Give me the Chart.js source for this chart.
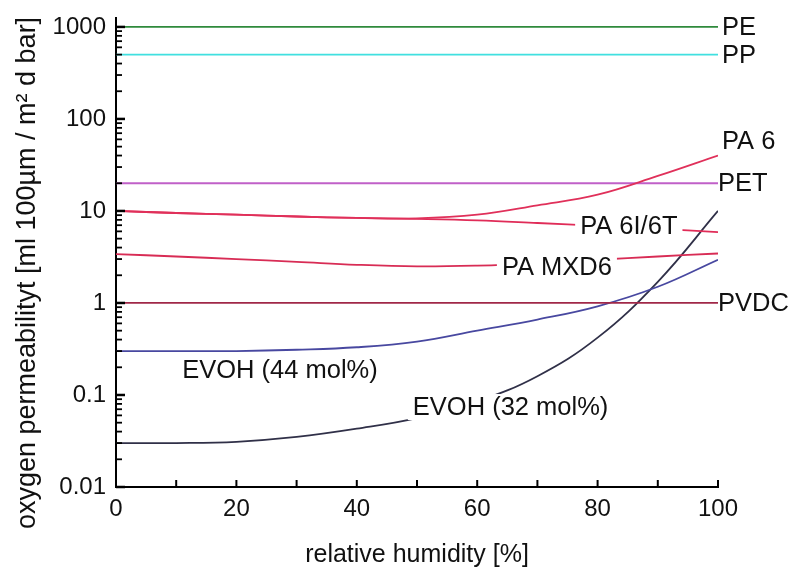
<!DOCTYPE html>
<html>
<head>
<meta charset="utf-8">
<script src="https://cdn.jsdelivr.net/npm/chart.js@4/dist/chart.umd.min.js"></script>
<style>
  html, body { margin: 0; padding: 0; background: #fff; }
  #wrap { width: 790px; height: 574px; }
</style>
</head>
<body>
<div id="wrap"><canvas id="chart"></canvas></div>
<script>
// relative humidity [%]
var humidity = [0, 10, 20, 30, 40, 50, 60, 70, 80, 90, 100];

// oxygen permeability per material
var pe      = [1000, 1000, 1000, 1000, 1000, 1000, 1000, 1000, 1000, 1000, 1000];
var pp      = [500, 500, 500, 500, 500, 500, 500, 500, 500, 500, 500];
var pa6     = [10, 9.5, 9.1, 8.7, 8.4, 8.3, 9.1, 11.5, 15, 24, 40];
var pet     = [20, 20, 20, 20, 20, 20, 20, 20, 20, 20, 20];
var pa6i6t  = [10, 9.5, 9.1, 8.7, 8.4, 8.2, 7.9, 7.4, 6.9, 6.4, 5.9];
var paMxd6  = [3.4, 3.2, 3.0, 2.8, 2.6, 2.5, 2.55, 2.7, 2.95, 3.2, 3.45];
var pvdc    = [1, 1, 1, 1, 1, 1, 1, 1, 1, 1, 1];
var evoh44  = [0.3, 0.3, 0.3, 0.31, 0.33, 0.38, 0.5, 0.66, 0.92, 1.5, 2.95];
var evoh32  = [0.03, 0.03, 0.031, 0.035, 0.043, 0.056, 0.085, 0.16, 0.42, 1.7, 10];

var xTicks = [0, 20, 40, 60, 80, 100];
var yTicks = [0.01, 0.1, 1, 10, 100, 1000];

function pts(values) {
	return humidity.map(function(h, i) { return {x: h, y: values[i]}; });
}

function series(values, color) {
	return {
		data: pts(values),
		borderColor: color,
		borderWidth: 1.8,
		pointRadius: 0,
		tension: 0.4,
		fill: false
	};
}

var FONT = '"Liberation Sans", Arial, sans-serif';

// text labels next to the curves, anchored at data coordinates
var curveLabels = [
	{text: 'PE', x: 100, y: 1000, dx: 4, box: false},
	{text: 'PP', x: 100, y: 500, dx: 4, box: false},
	{text: 'PA 6', x: 100, y: 58, dx: 4, box: false},
	{text: 'PET', x: 100, y: 20, dx: 0, box: false},
	{text: 'PA 6I/6T', x: 77.1, y: 6.9, dx: 0, box: true},
	{text: 'PA MXD6', x: 64.1, y: 2.46, dx: 0, box: true},
	{text: 'PVDC', x: 100, y: 1, dx: 0, box: false},
	{text: 'EVOH (44 mol%)', x: 11, y: 0.187, dx: 0, box: false},
	{text: 'EVOH (32 mol%)', x: 49.3, y: 0.074, dx: 0, box: true}
];

var axisTicks = {
	id: 'axisTicks',
	afterDraw: function(chart) {
		var ctx = chart.ctx, xs = chart.scales.x, ys = chart.scales.y;
		var area = chart.chartArea;
		ctx.save();
		ctx.strokeStyle = '#000';
		ctx.lineWidth = 2;
		// x ticks every 10, pointing in
		for (var v = 0; v <= 100; v += 10) {
			var px = xs.getPixelForValue(v);
			ctx.beginPath();
			ctx.moveTo(px, area.bottom);
			ctx.lineTo(px, area.bottom - 7);
			ctx.stroke();
		}
		// y decades and minor ticks, pointing in
		for (var e = -2; e <= 3; e++) {
			for (var m = 1; m <= 9; m++) {
				var val = m * Math.pow(10, e);
				if (val > ys.max) break;
				var py = ys.getPixelForValue(val);
				ctx.lineWidth = m === 1 ? 2.5 : 1.8;
				ctx.beginPath();
				ctx.moveTo(area.left, py);
				ctx.lineTo(area.left + (m === 1 ? 9 : 6), py);
				ctx.stroke();
			}
		}
		// y axis title
		ctx.save();
		ctx.translate(28, 273);
		ctx.rotate(-Math.PI / 2);
		ctx.font = '27px ' + FONT;
		ctx.fillStyle = '#111';
		ctx.textAlign = 'center';
		ctx.textBaseline = 'middle';
		ctx.fillText('oxygen permeabilityt [ml 100µm / m² d bar]', 0, 0);
		ctx.restore();
		ctx.restore();
	},
	afterDatasetsDraw: function(chart) {
		var ctx = chart.ctx, xs = chart.scales.x, ys = chart.scales.y;
		ctx.save();
		ctx.font = '25.5px ' + FONT;
		ctx.textBaseline = 'middle';
		ctx.textAlign = 'left';
		curveLabels.forEach(function(l) {
			var px = xs.getPixelForValue(l.x) + l.dx;
			var py = ys.getPixelForValue(l.y);
			var w = ctx.measureText(l.text).width;
			if (l.box) {
				ctx.fillStyle = '#fff';
				ctx.fillRect(px - 5, py - 13, w + 10, 26);
			}
			ctx.fillStyle = '#111';
			ctx.fillText(l.text, px, py + 1);
		});
		ctx.restore();
	}
};

new Chart(document.getElementById('chart'), {
	type: 'line',
	data: {
		datasets: [
			series(pe, '#2f8a3c'),
			series(pp, '#40e0e0'),
			series(pa6, '#e0305a'),
			series(pet, '#c060c8'),
			series(pa6i6t, '#e02c58'),
			series(paMxd6, '#d82c55'),
			series(pvdc, '#a02848'),
			series(evoh44, '#4848a0'),
			series(evoh32, '#303048')
		]
	},
	options: {
		responsive: true,
		maintainAspectRatio: false,
		animation: false,
		layout: { padding: { left: 8, right: 72, top: 18, bottom: 4 } },
		plugins: { legend: { display: false }, tooltip: { enabled: false } },
		scales: {
			x: {
				type: 'linear',
				min: 0,
				max: 100,
				afterBuildTicks: function(s) { s.ticks = xTicks.map(function(v) { return {value: v}; }); },
				grid: { display: false, drawTicks: false },
				border: { display: true, color: '#000', width: 2 },
				ticks: { color: '#111', font: { size: 24, family: FONT }, padding: 8 },
				title: { display: true, text: 'relative humidity [%]', color: '#111', font: { size: 25, family: FONT }, padding: { top: 19, bottom: 0 } },
				afterFit: function(s) { s.height = 83; s.paddingLeft = 0; s.paddingRight = 0; }
			},
			y: {
				type: 'logarithmic',
				min: 0.01,
				max: 1250,
				afterBuildTicks: function(s) { s.ticks = yTicks.map(function(v) { return {value: v}; }); },
				grid: { display: false, drawTicks: false },
				border: { display: true, color: '#000', width: 2 },
				ticks: { color: '#111', font: { size: 24, family: FONT }, padding: 10,
					callback: function(v) { return String(v); } },
				afterFit: function(s) { s.width = 108; s.paddingTop = 0; s.paddingBottom = 0; }
			}
		}
	},
	plugins: [axisTicks]
});
</script>
</body>
</html>
